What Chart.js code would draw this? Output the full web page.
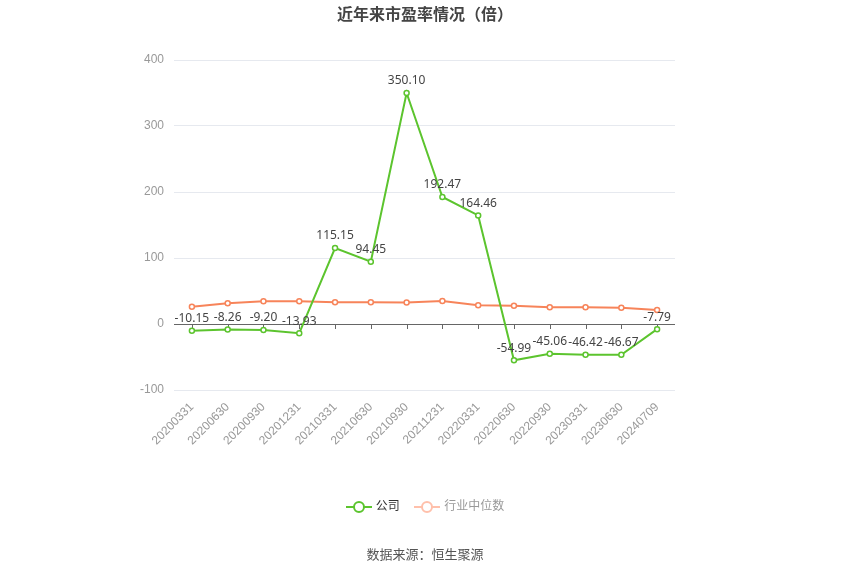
<!DOCTYPE html>
<html lang="zh">
<head>
<meta charset="UTF-8">
<title>近年来市盈率情况（倍）</title>
<script src="https://cdn.jsdelivr.net/npm/chart.js"></script>
<style>
    body { margin: 0; background: #fff; font-family: "Noto Sans CJK SC", "Noto Sans", sans-serif; }
    #wrap { position: relative; width: 850px; height: 575px; }
    #title { position: absolute; top: 1px; left: 0; width: 850px; text-align: center;
             font-size: 16px; font-weight: bold; color: #444; }
    #legend { position: absolute; top: 494px; left: 0; width: 850px; text-align: center; font-size: 12px; }
    #legend span.item { display: inline-block; margin: 0 6px; vertical-align: middle; }
    #legend svg { vertical-align: middle; margin-right: 4px; }
    #source { position: absolute; top: 544px; left: 0; width: 850px; text-align: center;
              font-size: 13px; color: #555; }
</style>
</head>
<body>
<div id="wrap">
    <canvas id="myChart" width="850" height="575"></canvas>
    <div id="title">近年来市盈率情况（倍）</div>
    <div id="legend">
        <span class="item" style="color:#333">
            <svg width="26" height="14"><line x1="0" y1="7" x2="26" y2="7" stroke="#5cc42e" stroke-width="2"/><circle cx="13" cy="7" r="5" fill="#fff" stroke="#5cc42e" stroke-width="2"/></svg>公司</span>
        <span class="item" style="color:#999">
            <svg width="26" height="14"><line x1="0" y1="7" x2="26" y2="7" stroke="#ffc0ab" stroke-width="2"/><circle cx="13" cy="7" r="5" fill="#fff" stroke="#ffc0ab" stroke-width="2"/></svg>行业中位数</span>
    </div>
    <div id="source">数据来源：恒生聚源</div>
</div>
<script>
    // 数据
    var dates = ['20200331', '20200630', '20200930', '20201231', '20210331', '20210630', '20210930',
                 '20211231', '20220331', '20220630', '20220930', '20230331', '20230630', '20240709'];
    var companyPE = [-10.15, -8.26, -9.20, -13.93, 115.15, 94.45, 350.10,
                     192.47, 164.46, -54.99, -45.06, -46.42, -46.67, -7.79];
    var industryPE = [26.2, 31.3, 34.3, 34.4, 32.8, 32.8, 32.7,
                      34.8, 28.3, 27.8, 25.3, 25.3, 24.7, 21.2];
    var yTicks = [-100, 0, 100, 200, 300, 400];

    var green = '#5cc42e';
    var orange = '#f7845a';

    // zero axis line + tick marks, and value labels for the company series
    var extras = {
        id: 'extras',
        beforeDatasetsDraw: function(chart) {
            var c = chart.ctx, x = chart.scales.x, y = chart.scales.y;
            var y0 = y.getPixelForValue(0);
            c.save();
            c.strokeStyle = '#666';
            c.lineWidth = 1;
            c.beginPath();
            c.moveTo(chart.chartArea.left, Math.round(y0) + 0.5);
            c.lineTo(chart.chartArea.right, Math.round(y0) + 0.5);
            for (var i = 0; i < dates.length; i++) {
                var px = Math.round(x.getPixelForValue(i)) + 0.5;
                c.moveTo(px, Math.round(y0));
                c.lineTo(px, Math.round(y0) + 5);
            }
            c.stroke();
            c.restore();
        },
        afterDatasetsDraw: function(chart) {
            var c = chart.ctx;
            var meta = chart.getDatasetMeta(0);
            c.save();
            c.font = '12px "Noto Sans", sans-serif';
            c.fillStyle = '#444';
            c.textAlign = 'center';
            c.textBaseline = 'bottom';
            meta.data.forEach(function(pt, i) {
                c.fillText(companyPE[i].toFixed(2), pt.x, pt.y - 6);
            });
            c.restore();
        }
    };

    var ctx = document.getElementById('myChart').getContext('2d');
    var myChart = new Chart(ctx, {
        type: 'line',
        data: {
            labels: dates,
            datasets: [{
                label: '公司',
                data: companyPE,
                borderColor: green,
                backgroundColor: '#fff',
                borderWidth: 2,
                pointRadius: 2.5,
                pointBorderWidth: 1.5,
                tension: 0
            }, {
                label: '行业中位数',
                data: industryPE,
                borderColor: orange,
                backgroundColor: '#fff',
                borderWidth: 2,
                pointRadius: 2.5,
                pointBorderWidth: 1.5,
                tension: 0
            }]
        },
        options: {
            responsive: false,
            animation: false,
            layout: { padding: { top: 60, right: 175, bottom: 0, left: 0 } },
            plugins: {
                legend: { display: false },
                title: { display: false },
                tooltip: { enabled: false }
            },
            scales: {
                x: {
                    offset: true,
                    grid: { display: false },
                    border: { display: false },
                    ticks: {
                        color: '#999',
                        font: { size: 12 },
                        minRotation: 45,
                        maxRotation: 45,
                        padding: 2
                    },
                    afterFit: function(s) { s.height = 185; }
                },
                y: {
                    min: -100,
                    max: 400,
                    afterBuildTicks: function(s) { s.ticks = yTicks.map(function(v) { return { value: v }; }); },
                    grid: { color: '#e6e9ef', drawTicks: false },
                    border: { display: false },
                    ticks: { color: '#999', font: { size: 12 }, padding: 10 },
                    afterFit: function(s) { s.width = 174; }
                }
            }
        },
        plugins: [extras]
    });
</script>
</body>
</html>
